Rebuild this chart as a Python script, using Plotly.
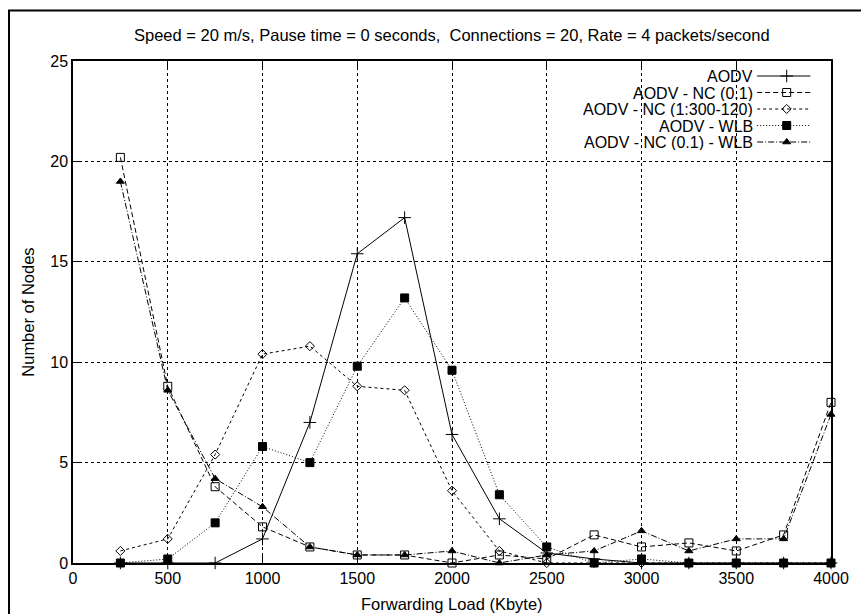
import plotly.graph_objects as go

# ---- data ----
load_kbyte = [250, 500, 750, 1000, 1250, 1500, 1750, 2000, 2250, 2500, 2750, 3000, 3250, 3500, 3750, 4000]
aodv = [0, 0, 0, 1.2, 7.0, 15.4, 17.2, 6.4, 2.2, 0.5, 0.2, 0, 0, 0, 0, 0]
aodv_nc01 = [20.2, 8.8, 3.8, 1.8, 0.8, 0.4, 0.4, 0.0, 0.4, 0.2, 1.4, 0.8, 1.0, 0.6, 1.4, 8.0]
aodv_nc_1300 = [0.6, 1.2, 5.4, 10.4, 10.8, 8.8, 8.6, 3.6, 0.6, 0.0, 0, 0, 0, 0, 0, 0]
aodv_wlb = [0, 0.2, 2.0, 5.8, 5.0, 9.8, 13.2, 9.6, 3.4, 0.8, 0, 0.2, 0, 0, 0, 0]
aodv_nc01_wlb = [19.0, 8.6, 4.2, 2.8, 0.8, 0.4, 0.4, 0.6, 0.0, 0.4, 0.6, 1.6, 0.6, 1.2, 1.2, 7.4]

series_names = ["AODV", "AODV - NC (0.1)", "AODV - NC (1:300-120)", "AODV - WLB", "AODV - NC (0.1) - WLB"]
series_values = [aodv, aodv_nc01, aodv_nc_1300, aodv_wlb, aodv_nc01_wlb]
x_ticks = [0, 500, 1000, 1500, 2000, 2500, 3000, 3500, 4000]
y_ticks = [0, 5, 10, 15, 20, 25]
title_text = "Speed = 20 m/s, Pause time = 0 seconds,\u00a0 Connections = 20, Rate = 4 packets/second"

# ---- styles ----
styles = [
    dict(dash="solid", symbol="cross-thin", size=9),
    dict(dash="5px,3px", symbol="square-open", size=8),
    dict(dash="3px,3px", symbol="diamond-open", size=7),
    dict(dash="1px,2px", symbol="square", size=8),
    dict(dash="6px,2px,1px,2px", symbol="triangle-up", size=7),
]

FONT = "Liberation Sans, Arial, Helvetica, sans-serif"
TXT = 16.5
L, R, T, B = 73, 843, 61, 563
W, H = 861, 614

fig = go.Figure()
for name, vals, st in zip(series_names, series_values, styles):
    fig.add_trace(go.Scatter(
        x=load_kbyte, y=vals, name=name, mode="lines+markers",
        line=dict(color="black", width=1, dash=st["dash"]),
        marker=dict(symbol=st["symbol"], size=st["size"], color="black",
                    line=dict(color="black", width=1)),
        showlegend=False, cliponaxis=False,
    ))

# ---- custom gnuplot-style key (text left of sample) on a pixel overlay axis ----
annotations = []
for i, (name, st) in enumerate(zip(series_names, styles)):
    ry = 76 + 16.5 * i
    fig.add_trace(go.Scatter(
        x=[768, 822], y=[ry, ry], mode="lines", xaxis="x2", yaxis="y2",
        line=dict(color="black", width=1, dash=st["dash"]), showlegend=False, hoverinfo="skip"))
    fig.add_trace(go.Scatter(
        x=[798], y=[ry], mode="markers", xaxis="x2", yaxis="y2",
        marker=dict(symbol=st["symbol"], size=st["size"], color="black",
                    line=dict(color="black", width=1)), showlegend=False, hoverinfo="skip"))
    annotations.append(dict(x=765, y=ry, xref="x2", yref="y2", text=name, showarrow=False,
                            xanchor="right", yanchor="middle", height=16, borderpad=0,
                            font=dict(size=16, color="black", family=FONT)))

pw, ph = R - L, B - T
annotations.append(dict(x=0.5, y=(B - 604) / ph, xref="paper", yref="paper", text="Forwarding Load (Kbyte)",
                        showarrow=False, xanchor="center", yanchor="middle",
                        font=dict(size=TXT, color="black", family=FONT)))
annotations.append(dict(x=(27 - L) / pw, y=(B - 312) / ph, xref="paper", yref="paper", text="Number of Nodes",
                        showarrow=False, xanchor="center", yanchor="middle", textangle=-90,
                        font=dict(size=TXT, color="black", family=FONT)))
annotations.append(dict(x=(458.5 - L) / pw, y=(B - 35) / ph, xref="paper", yref="paper", text=title_text,
                        showarrow=False, xanchor="center", yanchor="middle",
                        font=dict(size=TXT, color="black", family=FONT)))

axis_common = dict(
    showline=True, linecolor="black", linewidth=1.5, mirror="ticks",
    ticks="inside", ticklen=7, tickwidth=1, tickcolor="black",
    showgrid=True, gridcolor="black", gridwidth=1, griddash="dot",
    zeroline=False, tickfont=dict(size=16, color="black", family=FONT),
)

fig.update_layout(
    width=W, height=H,
    margin=dict(l=L, r=W - R, t=T, b=H - B, pad=0),
    paper_bgcolor="white", plot_bgcolor="white",
    font=dict(family=FONT, color="black"),
    xaxis=dict(range=[0, 4000], tickvals=x_ticks, ticktext=[str(v) for v in x_ticks], **axis_common),
    yaxis=dict(range=[0, 25], tickvals=y_ticks, ticktext=[str(v) for v in y_ticks], **axis_common),
    xaxis2=dict(overlaying="x", range=[L, R], visible=False, fixedrange=True),
    yaxis2=dict(overlaying="y", range=[B, T], visible=False, fixedrange=True),
    annotations=annotations,
    shapes=[dict(type="rect", xref="paper", yref="paper",
                 x0=(8 - L) / pw, x1=(875 - L) / pw, y0=(B - 640) / ph, y1=(B - 10.5) / ph,
                 line=dict(color="black", width=2), layer="below")],
    showlegend=False,
)

fig.write_html("out.html")
